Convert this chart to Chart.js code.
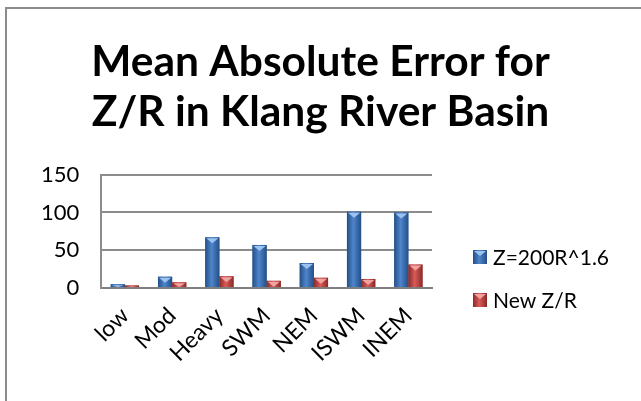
<!DOCTYPE html>
<html>
<head>
<meta charset="utf-8">
<script src="https://cdn.jsdelivr.net/npm/chart.js@4"></script>
<style>
    html, body { margin: 0; padding: 0; background: #ffffff; }
    #wrap { position: relative; width: 641px; height: 401px; overflow: hidden; }
    #frame {
        position: absolute; left: 5px; top: 7px; width: 700px; height: 450px;
        border: 2px solid #8c8c8c; box-sizing: border-box;
    }
    #chart { position: absolute; left: 0; top: 0; }
</style>
</head>
<body>
<div id="wrap">
    <div id="frame"></div>
    <canvas id="chart" width="641" height="401"></canvas>
</div>
<script>
// ---------- Data ----------
var categories = ['low', 'Mod', 'Heavy', 'SWM', 'NEM', 'ISWM', 'INEM'];
var seriesNames = ['Z=200R^1.6', 'New Z/R'];
var oldZR = [5, 15, 67, 57, 33, 101, 100];
var newZR = [3.5, 7.5, 15.5, 9.5, 13.5, 12, 31];
var yTicks = [0, 50, 100, 150];

// ---------- Bar shading (edge, middle, top bevel) ----------
var shades = [
    { edge: '#234f86', mid: '#4f85cc', top: '#9cc3f0', base: '#3a6fb3' },
    { edge: '#8a2a28', mid: '#d95b58', top: '#f0a3a1', base: '#c0504d' }
];

function fillBox(ctx, s, left, top, w, h) {
    var g = ctx.createLinearGradient(left, 0, left + w, 0);
    g.addColorStop(0, s.edge);
    g.addColorStop(0.45, s.mid);
    g.addColorStop(1, s.edge);
    ctx.fillStyle = g;
    ctx.fillRect(left, top, w, h);

    // Light triangle on the top face.
    var th = Math.min(6, h);
    ctx.fillStyle = s.top;
    ctx.beginPath();
    ctx.moveTo(left + 1, top + 1);
    ctx.lineTo(left + w - 1, top + 1);
    ctx.lineTo(left + w / 2, top + th);
    ctx.closePath();
    ctx.fill();
}

var bevelBars = {
    id: 'bevelBars',
    afterDatasetsDraw: function(chart) {
        var ctx = chart.ctx;
        chart.data.datasets.forEach(function(ds, di) {
            var meta = chart.getDatasetMeta(di);
            meta.data.forEach(function(bar) {
                var p = bar.getProps(['x', 'y', 'base', 'width'], true);
                var h = p.base - p.y;
                if (h <= 0) return;
                fillBox(ctx, shades[di], p.x - p.width / 2, p.y, p.width, h);
            });
        });
    }
};

// ---------- Legend (right side, below the middle like Excel) ----------
var sideLegend = {
    id: 'sideLegend',
    afterDraw: function(chart) {
        var ctx = chart.ctx;
        var x = chart.chartArea.right + 41;
        var rows = [257, 300];
        ctx.save();
        ctx.font = '21px Lato';
        ctx.textBaseline = 'middle';
        ctx.textAlign = 'left';
        chart.data.datasets.forEach(function(ds, di) {
            var cy = rows[di];
            fillBox(ctx, shades[di], x, cy - 7, 14, 14);
            ctx.fillStyle = '#000000';
            ctx.fillText(ds.label, x + 20, cy + 1);
        });
        ctx.restore();
    }
};

// ---------- Chart ----------
function drawChart() {
    var ctx = document.getElementById('chart').getContext('2d');
    new Chart(ctx, {
        type: 'bar',
        data: {
            labels: categories,
            datasets: [{
                label: seriesNames[0],
                data: oldZR,
                backgroundColor: shades[0].base,
                borderWidth: 0,
                categoryPercentage: 0.6,
                barPercentage: 1
            }, {
                label: seriesNames[1],
                data: newZR,
                backgroundColor: shades[1].base,
                borderWidth: 0,
                categoryPercentage: 0.6,
                barPercentage: 1
            }]
        },
        options: {
            responsive: false,
            animation: false,
            layout: {
                padding: { left: 19, right: 19, top: 38, bottom: 20 }
            },
            plugins: {
                title: {
                    display: true,
                    text: ['Mean Absolute Error for', 'Z/R in Klang River Basin'],
                    color: '#000000',
                    font: { family: 'Lato', size: 42.5, weight: 'bold', lineHeight: 1.16 },
                    padding: { top: 0, bottom: 38 }
                },
                legend: { display: false },
                tooltip: { enabled: false }
            },
            scales: {
                x: {
                    grid: { display: false, drawTicks: false },
                    border: { display: true, color: '#7f7f7f', width: 2 },
                    ticks: {
                        color: '#000000',
                        font: { family: 'Lato', size: 23 },
                        maxRotation: 45,
                        minRotation: 45,
                        padding: 14
                    }
                },
                y: {
                    min: 0,
                    max: 150,
                    afterBuildTicks: function(axis) {
                        axis.ticks = yTicks.map(function(v) { return { value: v }; });
                    },
                    grid: { color: '#8c8c8c', lineWidth: 2, drawTicks: false },
                    border: { display: true, color: '#8c8c8c', width: 2 },
                    ticks: {
                        color: '#000000',
                        font: { family: 'Lato', size: 22 },
                        padding: 22
                    }
                },
                // empty axis that only reserves room for the legend
                legendRoom: {
                    position: 'right',
                    display: true,
                    min: 0,
                    max: 1,
                    grid: { display: false, drawTicks: false },
                    border: { display: false },
                    ticks: { display: false },
                    afterFit: function(scale) {
                        scale.width = 190;
                    }
                }
            }
        },
        plugins: [bevelBars, sideLegend]
    });
}

if (document.fonts && document.fonts.load) {
    Promise.all([
        document.fonts.load('bold 42.5px Lato'),
        document.fonts.load('20px Lato')
    ]).then(drawChart, drawChart);
} else {
    drawChart();
}
</script>
</body>
</html>
